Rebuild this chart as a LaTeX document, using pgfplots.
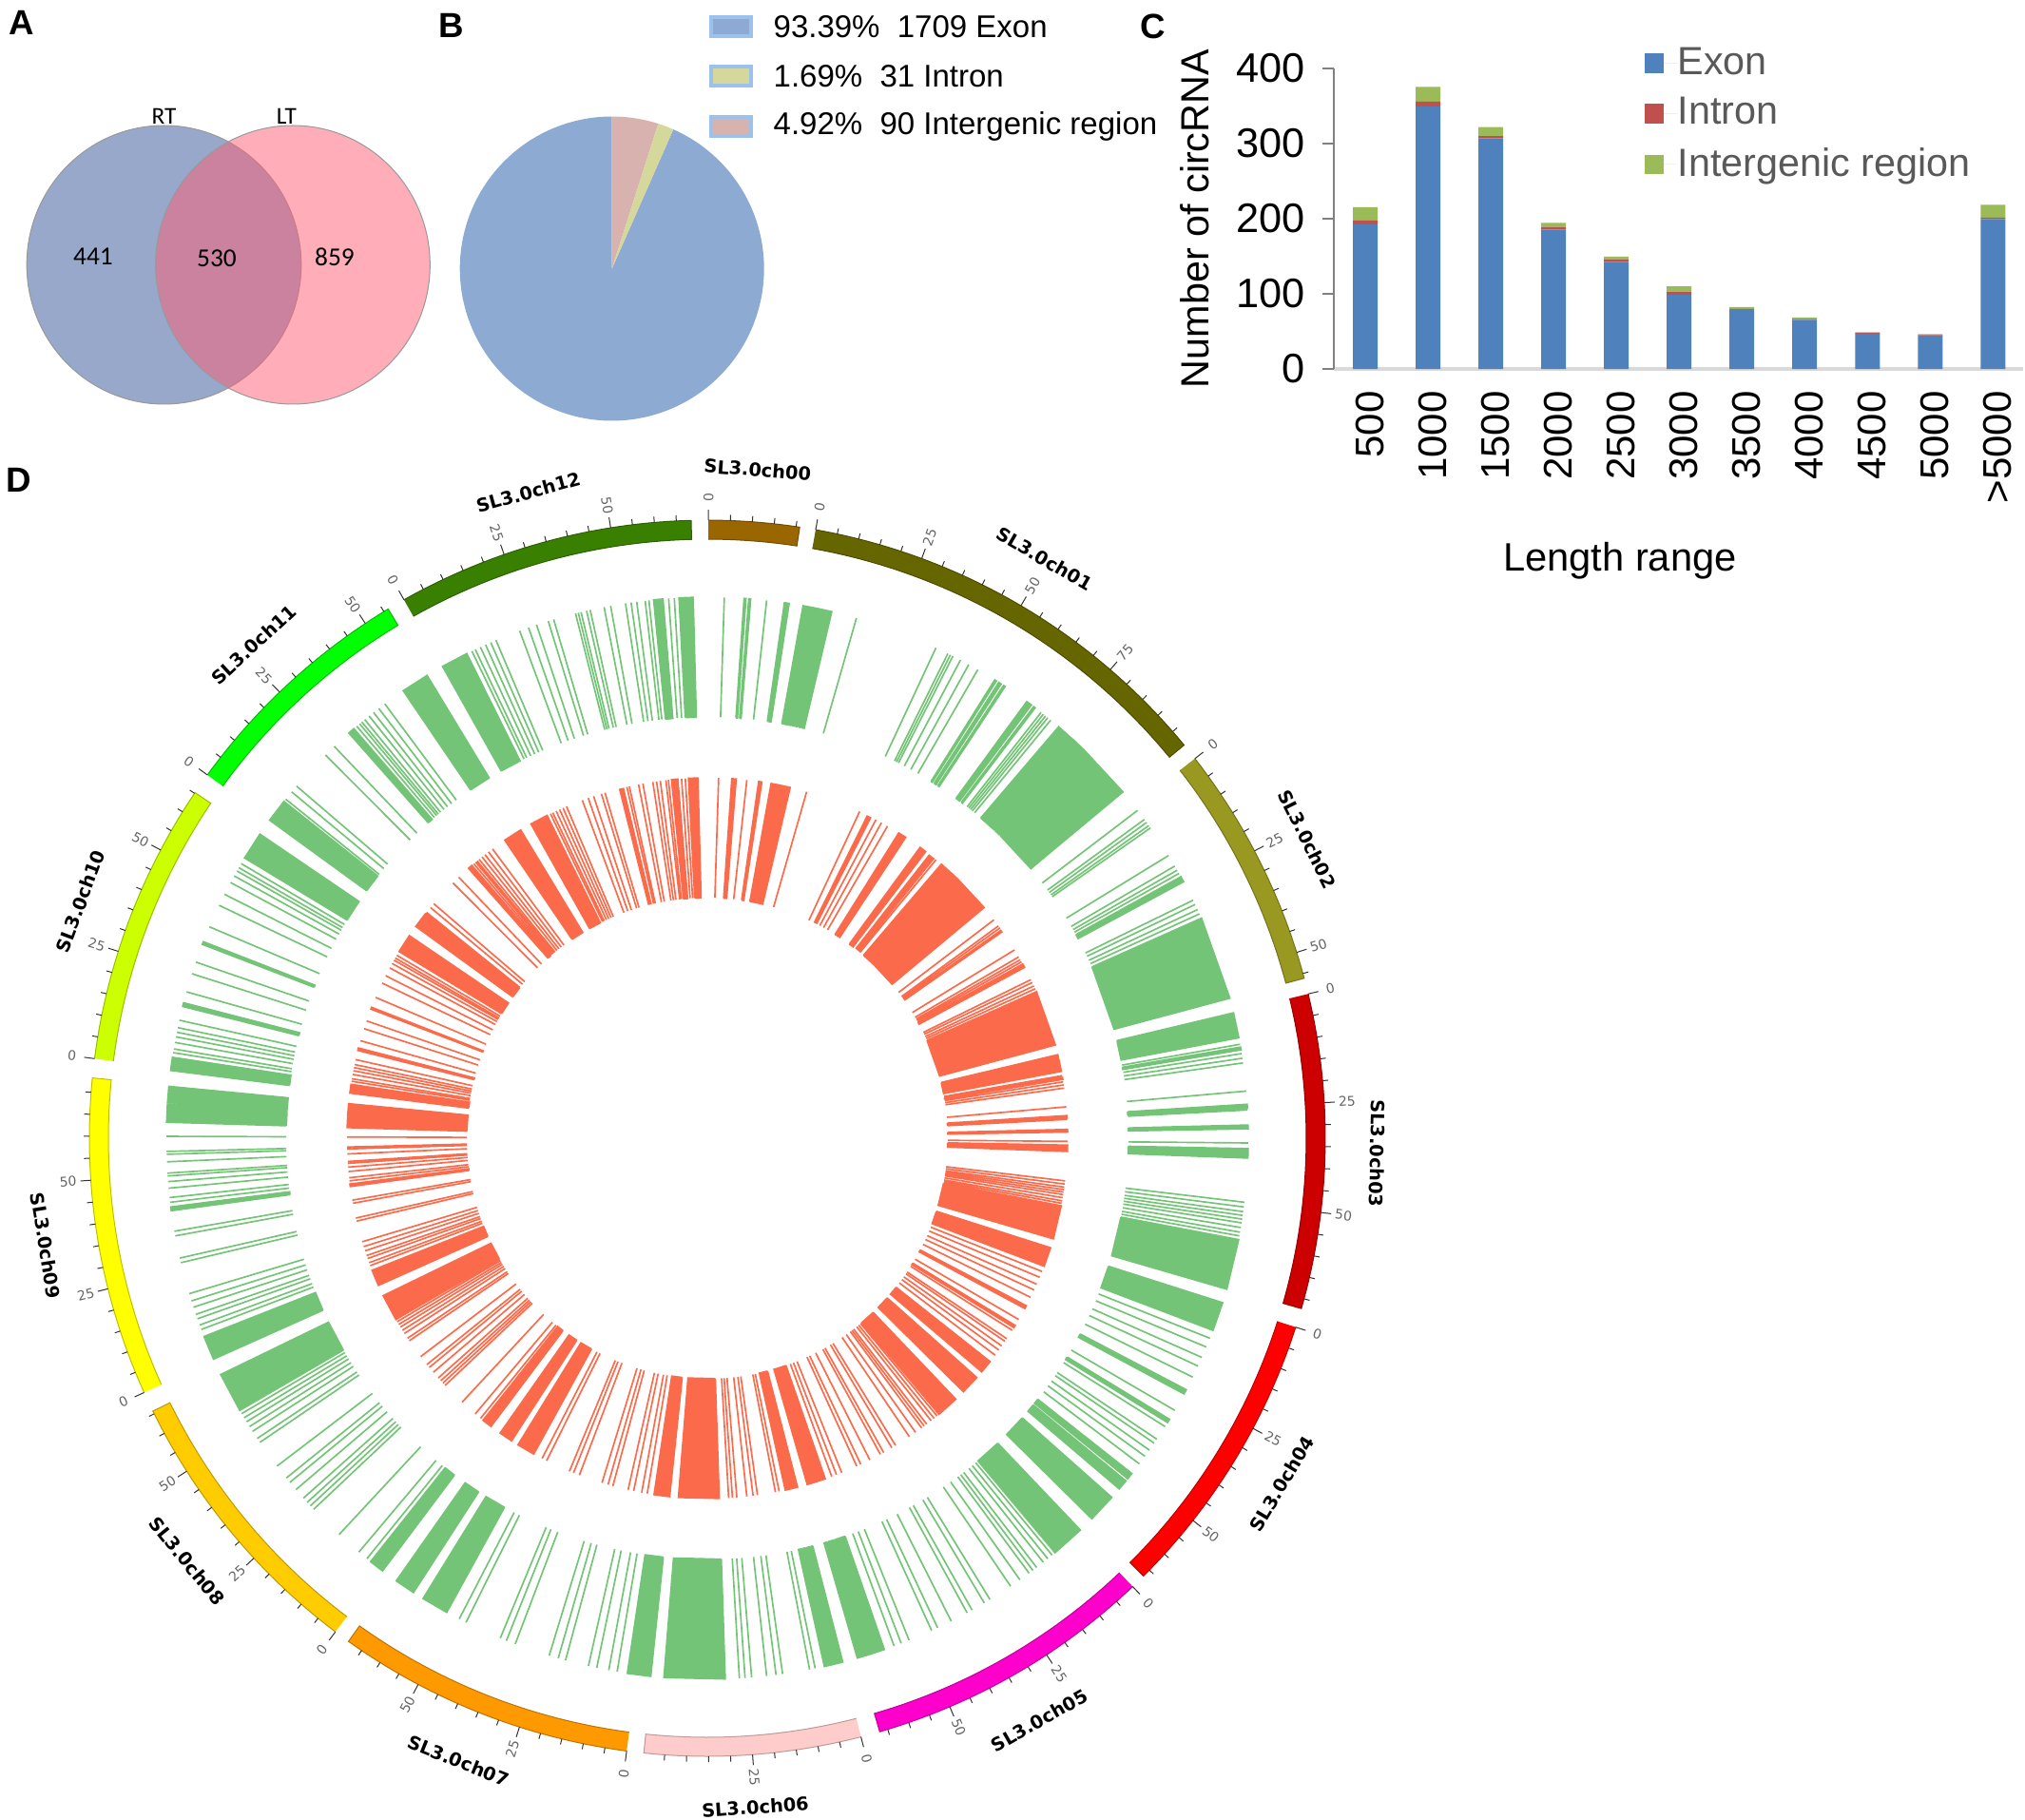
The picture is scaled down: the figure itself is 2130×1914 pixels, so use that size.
\documentclass[border=0pt]{standalone}
\usepackage{fontspec}
\usepackage{pgfplots}
\usepgfplotslibrary{polar}
\pgfplotsset{compat=1.18}
\setmainfont{Liberation Sans}
\newfontfamily\dv{DejaVu Sans}
\newfontfamily\carl{Carlito}
\newcommand\fs[1]{\fontsize{#1}{#1}\selectfont}

\definecolor{barexon}{HTML}{4F81BD}
\definecolor{barintron}{HTML}{C0504D}
\definecolor{barinter}{HTML}{9BBB59}
\definecolor{pieblue}{HTML}{8CAAD2}
\definecolor{piepink}{HTML}{D8B2AF}
\definecolor{pieyellow}{HTML}{D5D89B}
\definecolor{legbord}{HTML}{9CC2EC}
\definecolor{vennblue}{HTML}{97A8CB}
\definecolor{vennpink}{RGB}{255,93,115}
\definecolor{trackgreen}{HTML}{73C476}
\definecolor{trackred}{HTML}{FB6A4A}
\definecolor{chr0}{HTML}{996600}
\definecolor{chr1}{HTML}{666600}
\definecolor{chr2}{HTML}{999922}
\definecolor{chr3}{HTML}{CC0000}
\definecolor{chr4}{HTML}{FF0000}
\definecolor{chr5}{HTML}{FF00CC}
\definecolor{chr6}{HTML}{FFCCCC}
\definecolor{chr7}{HTML}{FF9900}
\definecolor{chr8}{HTML}{FFCC00}
\definecolor{chr9}{HTML}{FFFF00}
\definecolor{chrA}{HTML}{CCFF00}
\definecolor{chrB}{HTML}{00FF00}
\definecolor{chrC}{HTML}{3A8000}

% circRNA positions, degrees clockwise from the top: single lines or from/to blocks
\def\loci{1.8,3.9/4.1,4.4/4.6,6.3,8.2/8.7,
10.2/11.4,11.6/11.9,12.1/12.3,12.5/12.7,12.9/13.1,13.2/13.3,16.0,
25.0,26.4,26.7,27.0,27.9,28.9,30.0,
32.1/32.3,32.6/32.9,33.2/33.4,
36.2/36.8,37.1/37.3,38.1,38.4,38.7,39.0,39.4,
40.5/42.9,43.1/43.9,44.1/50.2,
52.7,53.9,54.3,54.7,55.0,
58.5,59.8,60.3,60.7,61.1/61.7,
63.9,64.4,65.0,65.5,66.0/75.0,
76.6/79.3,80.0,80.3/80.6,81.0,81.5,82.0,
85.0,86.4/86.8,87.0,88.6/89.0,90.5,91.1/92.1,
96.8,97.3,97.8,98.2,98.6,99.0,99.5,100.0,100.4,100.8/106.2,
107.7/110.8,111.7,112.7,113.9,114.9,116.2,117.7/118.2,120.2,121.3/121.7,122.2,123.8,124.3,125.2,126.0,127.0,
128.3/129.0,129.3/130.4,131.6/134.7,
136.4/140.0,140.4,141.0,141.6,142.5,143.0,143.5,144.7,145.9,
148.5,149.2,150.7,151.3,153.2,154.8,155.5,158.1,159.0,159.8,
160.9/162.3,162.5/163.2,163.4/163.9,165.5/166.3,166.5/166.9,167.1/167.5,168.5,169.1,
172.0,172.7,173.7,175.3,176.0,176.6,178.1/184.6,
186.0/188.5,189.6,190.5,191.8,192.7,195.2,196.0,197.0,
200.8,201.8,202.5,206.5,207.3,208.8/211.7,212.9/215.1,
216.9/218.5,219.0,220.1,222.9,
226.7,227.2,227.7,228.3,229.5,230.5,231.1,232.7,
235.8,236.3,237.2,237.8,238.4,238.9,239.4,239.8/244.1,
245.9/248.5,249.3,249.8,250.5,251.0,251.8,252.5,253.3,
256.7,257.2,259.6,260.1,262.3/262.7,263.2,263.7,264.7,265.4,266.0,266.3,
267.5,268.3,268.6,270.2,271.7/273.6,273.8/275.5,
277.2/278.6,279.1,279.5,280.2,280.8,281.3,281.8,282.6,
284.1/284.5,285.7,287.7,289.0,291.0/291.3,293.0,295.5,296.8,
298.2,299.0,299.6,300.0,300.5,301.2/304.2,
306.0/308.5,308.8,309.8,310.6,315.1,316.4,
318.5/319.2,319.6,320.0,320.3,320.7,321.3,321.9,322.6,323.4,
325.8/328.8,330.7/333.6,334.2,334.6,335.2,335.8,336.4,337.0,
339.7,340.7,341.6,342.9,343.5,345.9,346.2,346.5,347.1,347.5,
349.0,349.7,351.3,351.9,352.5,353.4,353.8,
354.3/355.3,355.9,356.5,357.0/358.5}

% polygon coordinates for one track
\newcommand\trackpts[3]{%
  \gdef#3{}%
  \foreach \a/\b in \loci {%
    \pgfmathsetmacro\ta{90-\a}\pgfmathsetmacro\tb{90-\b}%
    \xdef#3{#3(\ta,#1)(\ta,#2)(\tb,#2)(\tb,#1)(\ta,#1)(\ta,nan)}%
  }}
% arc band between two angles
\newcommand\bandpts[4]{%
  \gdef\pts{}%
  \pgfmathsetmacro\n{int(ceil(#2-#1))}%
  \foreach \i in {0,...,\n}{%
    \pgfmathsetmacro\t{90-(#1+(#2-#1)/\n*\i)}\xdef\pts{\pts(\t,#4)}}%
  \foreach \i in {0,...,\n}{%
    \pgfmathsetmacro\t{90-(#2-(#2-#1)/\n*\i)}\xdef\pts{\pts(\t,#3)}}%
}
\newcommand\band[5]{%
  \bandpts{#1}{#2}{#3}{#4}%
  \edef\temp{\noexpand\addplot[fill=#5,draw=#5!75!black,line width=0.3pt,forget plot] coordinates {\pts};}\temp}
\newcommand\pieslice[3]{%
  \bandpts{#1}{#2}{0}{160}%
  \edef\temp{\noexpand\addplot[fill=#3,draw=none,forget plot] coordinates {\pts};}\temp}

\trackpts{443}{569}{\greenpts}
\trackpts{253}{379}{\redpts}

% scale ticks, every 5 Mb = 2.04 deg
\gdef\tickpts{}
\foreach \s/\e in {0.1/8.6,10.1/50.5,52.1/75,76.5/106,107.8/135.1,136.5/163.8,165.6/185.9,187.5/215.5,217/243.8,245.7/275.6,277.4/304,306/328.9,330.6/358.5}{%
  \pgfmathsetmacro\n{int((\e-\s)/2.04)}%
  \foreach \i in {0,...,\n}{%
    \pgfmathsetmacro\t{90-\s-2.04*\i}%
    \pgfmathsetmacro\rr{mod(\i,5)==0?661:656}%
    \xdef\tickpts{\tickpts(\t,650)(\t,\rr)(\t,nan)}%
  }}

\begin{document}
\begin{tikzpicture}[x=0.3pt,y=-0.3pt]
\path[use as bounding box] (0,0) rectangle (2130,1914);
\coordinate (pieC) at (643.7,282.5);
\coordinate (barC) at (1403,388);
\coordinate (circC) at (744,1197);

% panel A
\begin{axis}[at={(0,0)},anchor=north west,scale only axis,width=141pt,height=135pt,
  xmin=0,xmax=470,ymin=0,ymax=450,y dir=reverse,hide axis,clip=false]
\addplot[only marks,mark=*,mark size=43.3pt,mark options={yscale=1.015,fill=vennblue,draw=black!40,line width=0.3pt}] coordinates {(172.5,278.5)};
\addplot[only marks,mark=*,mark size=43.3pt,mark options={yscale=1.015,fill=vennpink,draw=black!40,line width=0.3pt,fill opacity=0.5}] coordinates {(308,278.5)};
\end{axis}
\node[font=\carl\fs{7.6}] at (172.5,122) {RT};
\node[font=\carl\fs{7.6}] at (301.5,122) {LT};
\node[font=\carl\fs{8.2}] at (98,270) {441};
\node[font=\carl\fs{8.2}] at (228,272) {530};
\node[font=\carl\fs{8.2}] at (352,270) {859};

% panel B
\begin{polaraxis}[at={(pieC)},anchor=center,scale only axis,width=96pt,height=96pt,
  xmin=0,xmax=360,ymin=0,ymax=160,hide axis,clip=false]
\pieslice{23.796}{360}{pieblue}
\pieslice{0}{17.712}{piepink}
\pieslice{17.712}{23.796}{pieyellow}
\end{polaraxis}
\foreach \yy/\col/\txt in {28/pieblue/93.39\%\ \ 1709 Exon,80/pieyellow/1.69\%\ \ 31 Intron,133/piepink/4.92\%\ \ 90 Intergenic region}{
  \draw[fill=\col,draw=legbord,line width=1pt] (748,\yy-10) rectangle (790,\yy+10);
  \node[anchor=west,inner sep=0pt,font=\fs{9.9}] at (813,\yy) {\txt};
}

% panel C
\begin{axis}[at={(barC)},anchor=south west,scale only axis,width=217.5pt,height=94.8pt,
  ybar stacked,bar width=7.8pt,
  xmin=-0.5,xmax=10.48,ymin=0,ymax=400,
  axis x line=bottom,axis y line=left,axis line style={-},
  x axis line style={draw=black!15,line width=1pt},
  y axis line style={draw=black!50,line width=0.6pt},
  xtick=data,xticklabels={500,1000,1500,2000,2500,3000,3500,4000,4500,5000,>5000},
  x tick style={draw=none},
  ytick={0,100,200,300,400},
  y tick style={draw=black!50,line width=0.6pt},tick align=outside,major tick length=3.5pt,
  /pgf/number format/assume math mode=true,
  yticklabel style={font=\fs{13},xshift=-2pt},
  xticklabel style={font=\fs{12.6},rotate=90,anchor=east,yshift=-1.5pt},
  xlabel={Length range},ylabel={Number of circRNA},
  every axis x label/.style={at={(rel axis cs:0.415,0)},anchor=center,yshift=-60.6pt,font=\fs{12.5}},
  every axis y label/.style={at={(rel axis cs:0,0.5)},anchor=center,xshift=-43.8pt,rotate=90,font=\fs{12.4}},
  legend style={at={(rel axis cs:0.4495,1.073)},anchor=north west,draw=none,fill=none,inner sep=0pt,
    font=\fs{12.4},text=black!65,row sep=5.8pt,nodes={inner sep=0pt}},
  legend cell align=left,
  legend image code/.code={\fill[#1] (0pt,-3.2pt) rectangle (6pt,3pt);\path (0pt,0pt) -- (10.5pt,0pt);},
]
\addplot[fill=barexon,draw=none] coordinates {(0,192.5)(1,349.5)(2,307)(3,185.5)(4,142.5)(5,99)(6,79.5)(7,65.5)(8,47)(9,44.5)(10,199.5)};
\addplot[fill=barintron,draw=none] coordinates {(0,5)(1,6.5)(2,3)(3,3.5)(4,3.5)(5,4)(6,0.5)(7,1)(8,1)(9,0.5)(10,2)};
\addplot[fill=barinter,draw=none] coordinates {(0,18)(1,19.5)(2,12)(3,5.5)(4,3.5)(5,7)(6,2.5)(7,2)(8,1)(9,1.5)(10,17)};
\legend{Exon,Intron,Intergenic region}
\end{axis}

% panel D
\begin{polaraxis}[at={(circC)},anchor=center,scale only axis,width=420pt,height=420pt,
  xmin=0,xmax=360,ymin=0,ymax=700,hide axis,clip=false,unbounded coords=jump]
\edef\temp{\noexpand\addplot[fill=trackgreen,draw=trackgreen,line width=0.5pt,forget plot] coordinates {\greenpts};}\temp
\edef\temp{\noexpand\addplot[fill=trackred,draw=trackred,line width=0.5pt,forget plot] coordinates {\redpts};}\temp
\band{0.1}{8.6}{630}{650}{chr0}
\band{10.1}{50.5}{630}{650}{chr1}
\band{52.1}{75}{630}{650}{chr2}
\band{76.5}{106}{630}{650}{chr3}
\band{107.8}{135.1}{630}{650}{chr4}
\band{136.5}{163.8}{630}{650}{chr5}
\band{165.6}{185.9}{630}{650}{chr6}
\band{187.5}{215.5}{630}{650}{chr7}
\band{217}{243.8}{630}{650}{chr8}
\band{245.7}{275.6}{630}{650}{chr9}
\band{277.4}{304}{630}{650}{chrA}
\band{306}{328.9}{630}{650}{chrB}
\band{330.6}{358.5}{630}{650}{chrC}
\edef\temp{\noexpand\addplot[draw=black!80,line width=0.3pt,forget plot] coordinates {\tickpts};}\temp
\end{polaraxis}

\foreach \s/\list in {0.1/{0},10.1/{0,25,50,75},52.1/{0,25,50},76.5/{0,25,50},107.8/{0,25,50},136.5/{0,25,50},165.6/{0,25},187.5/{0,25,50},217/{0,25,50},245.7/{0,25,50},277.4/{0,25,50},306/{0,25,50},330.6/{0,25,50}}{
  \foreach \v in \list {
    \pgfmathsetmacro\aa{\s+0.408*\v}
    \pgfmathsetmacro\rot{\aa<180?90-\aa:270-\aa}
    \node[rotate=\rot,font=\dv\fs{4.2},text=black!60,inner sep=0pt] at ({744+674*sin(\aa)},{1197-674*cos(\aa)}) {\v};
  }
}
\foreach \aa/\rot/\lab in {4.3/-4.3/00,30.2/-30.2/01,63.5/-63.5/02,91.3/-91.3/03,121/59/04,150.3/29.7/05,175.9/4.1/06,201.8/-21.8/07,230.9/-50.9/08,260.8/-80.8/09,290.7/69.3/10,317.4/42.6/11,344.5/15.5/12}{
  \node[rotate=\rot,font=\dv\bfseries\fs{5.8},inner sep=0pt] at ({744+705*sin(\aa)},{1197-705*cos(\aa)}) {SL3.0ch\lab};
}

% panel letters
\node[font=\bfseries\fs{11}] at (23,24) {A};
\node[font=\bfseries\fs{11}] at (475,27) {B};
\node[font=\bfseries\fs{11}] at (1213,28) {C};
\node[font=\bfseries\fs{11}] at (20,505) {D};
\end{tikzpicture}
\end{document}
